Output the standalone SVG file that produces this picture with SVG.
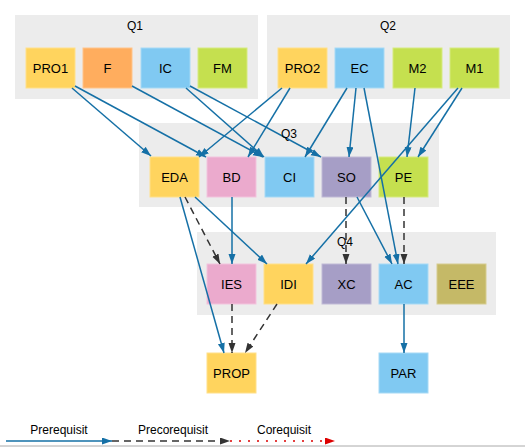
<svg xmlns="http://www.w3.org/2000/svg" width="525" height="447" viewBox="0 0 525 447">
<style>
.cl{fill:#ececec}
.cll{font-family:"Liberation Sans",Arial,sans-serif;font-size:12px;fill:#000;text-anchor:middle}
.n rect{stroke-width:1}
.n text{font-family:"Liberation Sans",Arial,sans-serif;font-size:13px;fill:#000;text-anchor:middle}
.y{fill:#ffd45e;stroke:#ffe08a}
.o{fill:#ffad5e;stroke:#ffc48a}
.b{fill:#80c9f2;stroke:#a6d9f5}
.g{fill:#c5e04f;stroke:#d6ea80}
.p{fill:#ebaacd;stroke:#f2c4dd}
.v{fill:#a69ec6;stroke:#c0bad6}
.ol{fill:#c5b967;stroke:#d5cc90}
.pre{stroke:#1570a6;stroke-width:1.5;fill:none;marker-end:url(#ab)}
.prc{stroke:#333;stroke-width:1.5;fill:none;stroke-dasharray:7,5;marker-end:url(#ag)}
.cor{stroke:#d00;stroke-width:1.5;fill:none;stroke-dasharray:2,7;marker-end:url(#ar)}
.lg{font-family:"Liberation Sans",Arial,sans-serif;font-size:12px;fill:#000;text-anchor:middle}
</style>
<defs>
<marker id="ab" markerUnits="userSpaceOnUse" markerWidth="11" markerHeight="8" refX="10" refY="3.5" orient="auto"><path d="M0,0 L10,3.5 L0,7 z" fill="#1570a6"/></marker>
<marker id="ag" markerUnits="userSpaceOnUse" markerWidth="11" markerHeight="8" refX="10" refY="3.5" orient="auto"><path d="M0,0 L10,3.5 L0,7 z" fill="#333"/></marker>
<marker id="ar" markerUnits="userSpaceOnUse" markerWidth="11" markerHeight="8" refX="10" refY="3.5" orient="auto"><path d="M0,0 L10,3.5 L0,7 z" fill="#d00"/></marker>
</defs>
<rect width="525" height="447" fill="#fff"/>
<g id="clusters">
<rect class="cl" x="15" y="15" width="243" height="84"/>
<text class="cll" x="135" y="30">Q1</text>
<rect class="cl" x="267" y="15" width="243" height="84"/>
<text class="cll" x="388" y="30">Q2</text>
<rect class="cl" x="139" y="123" width="300" height="84"/>
<rect class="cl" x="197" y="232" width="299" height="83"/>
</g>
<g id="nodes">
<g id="PRO1" class="n"><rect class="y" x="26" y="48" width="49" height="40"/><text x="50.5" y="72.5">PRO1</text></g>
<g id="F" class="n"><rect class="o" x="83" y="48" width="49" height="40"/><text x="107.5" y="72.5">F</text></g>
<g id="IC" class="n"><rect class="b" x="141" y="48" width="49" height="40"/><text x="165.5" y="72.5">IC</text></g>
<g id="FM" class="n"><rect class="g" x="198" y="48" width="49" height="40"/><text x="222.5" y="72.5">FM</text></g>
<g id="PRO2" class="n"><rect class="y" x="278" y="48" width="49" height="40"/><text x="302.5" y="72.5">PRO2</text></g>
<g id="EC" class="n"><rect class="b" x="335" y="48" width="49" height="40"/><text x="359.5" y="72.5">EC</text></g>
<g id="M2" class="n"><rect class="g" x="393" y="48" width="49" height="40"/><text x="417.5" y="72.5">M2</text></g>
<g id="M1" class="n"><rect class="g" x="450" y="48" width="49" height="40"/><text x="474.5" y="72.5">M1</text></g>
<g id="EDA" class="n"><rect class="y" x="150" y="157" width="49" height="40"/><text x="174.5" y="181.5">EDA</text></g>
<g id="BD" class="n"><rect class="p" x="207" y="157" width="49" height="40"/><text x="231.5" y="181.5">BD</text></g>
<g id="CI" class="n"><rect class="b" x="265" y="157" width="49" height="40"/><text x="289.5" y="181.5">CI</text></g>
<g id="SO" class="n"><rect class="v" x="322" y="157" width="49" height="40"/><text x="346.5" y="181.5">SO</text></g>
<g id="PE" class="n"><rect class="g" x="379" y="157" width="49" height="40"/><text x="403.5" y="181.5">PE</text></g>
<g id="IES" class="n"><rect class="p" x="207" y="264" width="49" height="40"/><text x="231.5" y="288.5">IES</text></g>
<g id="IDI" class="n"><rect class="y" x="264" y="264" width="49" height="40"/><text x="288.5" y="288.5">IDI</text></g>
<g id="XC" class="n"><rect class="v" x="322" y="264" width="49" height="40"/><text x="346.5" y="288.5">XC</text></g>
<g id="AC" class="n"><rect class="b" x="379" y="264" width="49" height="40"/><text x="403.5" y="288.5">AC</text></g>
<g id="EEE" class="n"><rect class="ol" x="437" y="264" width="49" height="40"/><text x="461.5" y="288.5">EEE</text></g>
<g id="PROP" class="n"><rect class="y" x="207" y="353" width="49" height="40"/><text x="231.5" y="377.5">PROP</text></g>
<g id="PAR" class="n"><rect class="b" x="379" y="353" width="49" height="40"/><text x="403.5" y="377.5">PAR</text></g>
</g>
<g id="connectors">
<path class="pre" d="M72,88 L151,156"/>
<path class="pre" d="M75,86 L206,157"/>
<path class="pre" d="M132,86 L263,157"/>
<path class="pre" d="M186,88 L264,157"/>
<path class="pre" d="M190,86 L321,157"/>
<path class="pre" d="M282,88 L199,157"/>
<path class="pre" d="M290,88 L248,157"/>
<path class="pre" d="M347,88 L305,157"/>
<path class="pre" d="M356,88 L349,157"/>
<path class="pre" d="M364,88 L398,264"/>
<path class="pre" d="M415,88 L407,157"/>
<path class="pre" d="M462,88 L418,157"/>
<path class="pre" d="M458,88 L306,264"/>
<path class="pre" d="M180,197 L224,353"/>
<path class="prc" d="M185,197 L220,264"/>
<path class="pre" d="M195,197 L267,264"/>
<path class="pre" d="M232,197 L232,264"/>
<path class="pre" d="M357,197 L392,264"/>
<path class="prc" d="M346,197 L346,264"/>
<path class="prc" d="M404,197 L404,264"/>
<path class="prc" d="M232,304 L232,353"/>
<path class="prc" d="M277,304 L245,353"/>
<path class="pre" d="M404,304 L404,353"/>
</g>
<g id="cluster-labels">
<text class="cll" x="289" y="138">Q3</text>
<text class="cll" x="345" y="246">Q4</text>
</g>
<g id="legend">
<text class="lg" x="59" y="434">Prerequisit</text>
<text class="lg" x="173" y="434">Precorequisit</text>
<text class="lg" x="284" y="434">Corequisit</text>
<path class="pre" d="M6,441 L112,441"/>
<path class="prc" d="M112,441 L230,441"/>
<path class="cor" d="M230,441 L335,441"/>
<line x1="0" y1="446" x2="525" y2="446" stroke="#aaa" stroke-width="1"/>
</g>
</svg>
